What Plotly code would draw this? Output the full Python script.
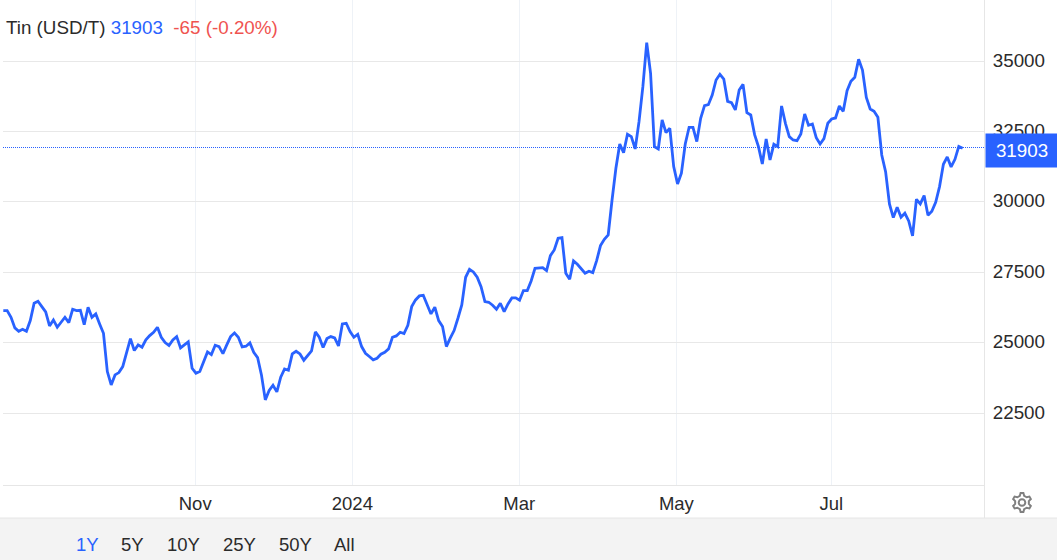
import math
import plotly.graph_objects as go

prices_2023 = [
    26137, 26137, 25900, 25522, 25403, 25474, 25403, 25782, 26397, 26468,
    26279, 26090, 25593, 25805, 25545, 25711, 25900, 25711, 26184, 26137,
    26149, 25640, 26255, 25900, 26018, 25664, 25332, 23972, 23499, 23854,
    23936, 24149, 24646, 25143, 24717, 24918, 24835, 25096, 25250, 25368,
    25545, 25190, 25001, 24895, 25096, 25214, 24812, 24906, 25025, 24090,
    23913, 23972, 24350, 24670, 24575, 24906, 24859, 24611, 24918, 25214,
    25344, 25190, 24847, 24871, 24989, 24658, 24469, 23854, 22967, 23298,
    23487, 23250, 23771, 24066, 24019, 24599, 24694, 24599, 24374, 24552,
    24705, 25380, 25190, 24824, 25143, 25214, 25167, 24883, 25664, 25687,
    25391,
]
prices_spring = [
    25191, 25297, 24860, 24623, 24505, 24387, 24446, 24588, 24659, 24777,
    25191, 25238, 25368, 25321, 25617, 26279, 26516, 26658, 26682, 26350,
    26019, 26256, 25782, 25570, 24860, 25156, 25428, 25865, 26339, 27320,
    27604, 27510, 27320, 26989, 26457, 26433, 26327, 26185, 26398, 26102,
    26374, 26587, 26587, 26504, 26847, 26847, 27190, 27640, 27652, 27664,
    27557, 28089, 28291, 28705, 28728, 27462, 27249, 27900, 27782, 27628,
    27462, 27533, 27486, 27912, 28444, 28669, 28823, 30065,
]
prices_peak = [
    31191, 32054, 31747, 32397, 32314, 31877, 32847, 34089, 35650, 34562,
    31960, 31877, 32906, 32456, 32610, 31250, 30635, 31013, 32054, 32646,
    32646, 32137, 32965, 33415, 33450, 33793, 34326, 34527, 34361, 33568,
    33521, 33261, 33971, 34172, 33166, 33083, 32385, 31960, 31344, 32232,
    31486, 32042, 31960, 33403, 32788, 32314,
]
prices_summer = [
    32196, 32172, 32409, 33119, 32717, 32764, 32279, 32054, 32243, 32788,
    32941, 32977, 33403, 33213, 33947, 34278, 34420, 35059, 34680, 33710,
    33296, 33213, 33000, 31664, 31072, 29925, 29440, 29806, 29451, 29593,
    29321, 28789, 30090, 29925, 30220, 29522, 29664, 29984, 30540, 31332,
    31593, 31238, 31510, 31968, 31903,
]
prices = prices_2023 + prices_spring + prices_peak + prices_summer
session = list(range(len(prices)))

x_tick_positions = [49.8, 90.6, 133.9, 174.7, 214.9]
x_tick_labels = ["Nov", "2024", "Mar", "May", "Jul"]
y_ticks = [22500, 25000, 27500, 30000, 32500, 35000]
range_labels = ["1Y", "5Y", "10Y", "25Y", "50Y", "All"]
range_centers_px = [87, 132.5, 183.5, 239, 295, 344.5]

last_price = 31903
BLUE = "#2962ff"
RED = "#ef5350"
TEXT = "#2b2b2b"
GRID = "#e8e8e8"
VGRID = "#eef2f7"
FONT = "Liberation Sans, Arial, sans-serif"
SIZE = 18.5

W, H = 1057, 560
L, R, T, B = 3, 985, 0, 485


def px(x):
    return (x - L) / (R - L)


def py(y):
    return (B - y) / (B - T)


def gear_path(cx, cy, outer, inner, teeth=6):
    pts = []
    for i in range(teeth):
        base = -math.pi / 2 + i * 2 * math.pi / teeth
        step = 2 * math.pi / teeth
        for offset, radius in ((-0.30, inner), (-0.14, outer), (0.14, outer), (0.30, inner)):
            a = base + offset * step
            pts.append((cx + radius * math.cos(a), cy + radius * math.sin(a)))
    return "M " + " L ".join(f"{px(x):.5f},{py(y):.5f}" for x, y in pts) + " Z"


shapes = [
    dict(type="rect", xref="paper", yref="paper", x0=px(0), x1=px(W), y0=py(H), y1=py(518),
         fillcolor="#f3f3f3", line_width=0, layer="below"),
    dict(type="line", xref="paper", yref="paper", x0=px(0), x1=px(W), y0=py(518), y1=py(518),
         line=dict(color="#e6e6e6", width=1)),
    dict(type="line", xref="paper", yref="paper", x0=px(984.5), x1=px(984.5), y0=py(518), y1=py(0),
         line=dict(color="#e6e6e6", width=1)),
    dict(type="line", xref="paper", yref="paper", x0=0, x1=1, y0=py(147.5), y1=py(147.5),
         line=dict(color=BLUE, width=1, dash="1px,1px")),
    dict(type="path", xref="paper", yref="paper", path=gear_path(1022, 502.5, 9.5, 7.0),
         line=dict(color="#808080", width=2)),
    dict(type="circle", xref="paper", yref="paper", x0=px(1018.7), x1=px(1025.3),
         y0=py(505.8), y1=py(499.2), line=dict(color="#808080", width=2)),
]

annotations = [
    dict(xref="paper", yref="paper", x=px(3.5), y=py(27), xanchor="left", yanchor="middle",
         showarrow=False, font=dict(size=18.8, color=TEXT, family=FONT),
         text=f'Tin (USD/T) <span style="color:{BLUE}">{last_price}</span>'
              f'&nbsp;&nbsp;<span style="color:{RED}">-65 (-0.20%)</span>'),
    dict(xref="paper", yref="paper", x=px(985), y=py(150.5), xanchor="left", yanchor="middle",
         showarrow=False, text=f"{last_price}", font=dict(size=18.8, color="white", family=FONT),
         bgcolor=BLUE, width=72, height=33, align="center", borderpad=0),
]
for label, centre in zip(range_labels, range_centers_px):
    annotations.append(
        dict(xref="paper", yref="paper", x=px(centre), y=py(544), xanchor="center", yanchor="middle",
             showarrow=False, text=label,
             font=dict(size=SIZE, color=BLUE if label == "1Y" else TEXT, family=FONT))
    )

fig = go.Figure(
    go.Scatter(x=session, y=prices, mode="lines", line=dict(color=BLUE, width=2.8),
               hoverinfo="skip", cliponaxis=False)
)
fig.update_layout(
    width=W, height=H, autosize=False,
    margin=dict(l=L, r=W - R, t=T, b=H - B, pad=0),
    paper_bgcolor="white", plot_bgcolor="white", showlegend=False,
    shapes=shapes, annotations=annotations,
    xaxis=dict(
        range=[-0.08, 254.8], tickmode="array", tickvals=x_tick_positions, ticktext=x_tick_labels,
        showgrid=True, gridcolor=VGRID, gridwidth=1, zeroline=False,
        showline=True, linecolor="#e6e6e6", linewidth=1,
        ticks="outside", ticklen=2, tickcolor="rgba(0,0,0,0)",
        tickfont=dict(size=SIZE, color=TEXT, family=FONT),
    ),
    yaxis=dict(
        range=[19944, 37166], side="right", tickmode="array", tickvals=y_ticks,
        ticktext=[str(v) for v in y_ticks],
        showgrid=True, gridcolor=GRID, gridwidth=1, zeroline=False, showline=False,
        ticks="outside", ticklen=3, tickcolor="rgba(0,0,0,0)", ticklabelshift=-1,
        tickfont=dict(size=18.8, color=TEXT, family=FONT),
    ),
)
fig.write_html("out.html", config=dict(displayModeBar=False),
               post_script="document.body.style.margin='0';document.documentElement.style.overflow='hidden';")
